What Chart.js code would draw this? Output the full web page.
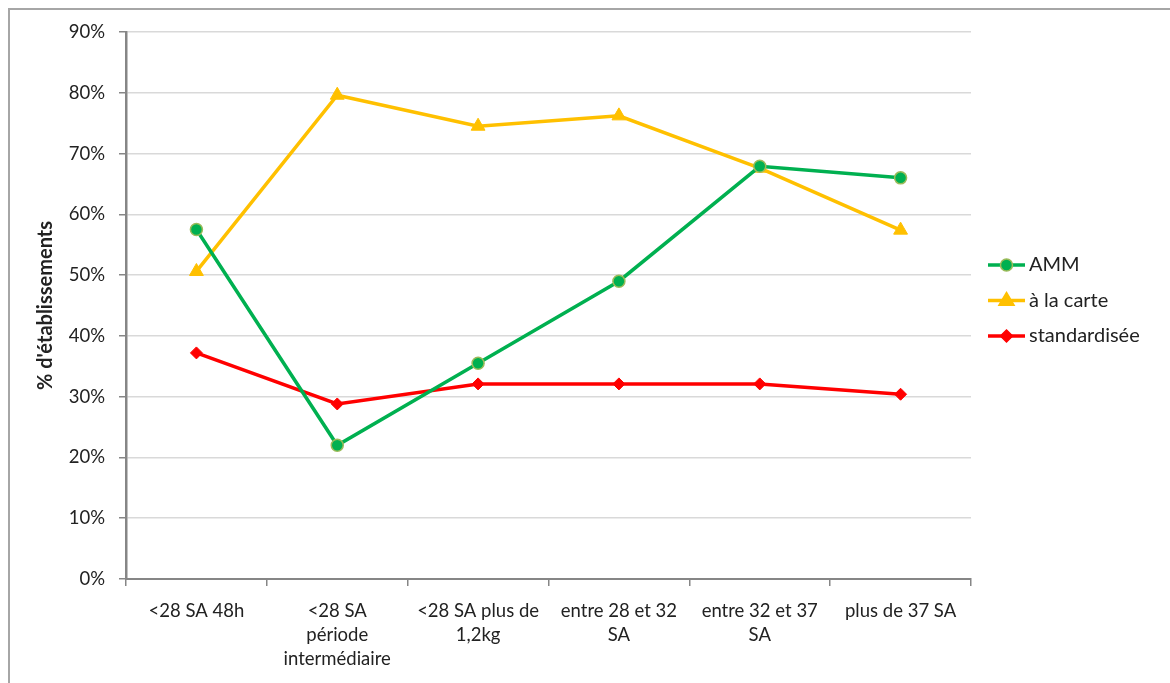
<!DOCTYPE html>
<html>
<head>
<meta charset="utf-8">
<script src="https://cdn.jsdelivr.net/npm/chart.js@4/dist/chart.umd.min.js"></script>
<style>
  html, body { margin: 0; padding: 0; background: #fff; overflow: hidden; }
  #frame {
    position: absolute; left: 8px; top: 8px; width: 1300px; height: 800px;
    border-left: 2px solid #a6a6a6; border-top: 2px solid #a6a6a6;
  }
  #wrap { position: absolute; left: 0; top: 0; width: 1170px; height: 683px; }
</style>
</head>
<body>
<div id="frame"></div>
<div id="wrap"><canvas id="lineChart"></canvas></div>
<script>
const categories = [
  '<28 SA 48h',
  ['<28 SA', 'période', 'intermédiaire'],
  ['<28 SA plus de', '1,2kg'],
  ['entre 28 et 32', 'SA'],
  ['entre 32 et 37', 'SA'],
  'plus de 37 SA'
];
const ammValues = [57.5, 22.0, 35.5, 49.0, 67.9, 66.0];
const carteValues = [50.6, 79.6, 74.5, 76.2, 67.6, 57.4];
const standardValues = [37.2, 28.8, 32.1, 32.1, 32.1, 30.4];
const seriesNames = ['AMM', 'à la carte', 'standardisée'];

const textColor = '#222';
const axisColor = '#868686';
const fontFamily = 'Lato, "Open Sans", sans-serif';

// draw a marker shape for the legend
function drawMarker(ctx, style, x, y, r, fill, stroke) {
  ctx.save();
  ctx.fillStyle = fill;
  ctx.strokeStyle = stroke;
  ctx.lineWidth = 1.5;
  ctx.beginPath();
  if (style === 'circle') {
    ctx.arc(x, y, r, 0, Math.PI * 2);
  } else if (style === 'triangle') {
    ctx.moveTo(x, y - r);
    ctx.lineTo(x + r * 0.95, y + r * 0.6);
    ctx.lineTo(x - r * 0.95, y + r * 0.6);
    ctx.closePath();
  } else {
    ctx.moveTo(x, y - r);
    ctx.lineTo(x + r, y);
    ctx.lineTo(x, y + r);
    ctx.lineTo(x - r, y);
    ctx.closePath();
  }
  ctx.fill();
  ctx.stroke();
  ctx.restore();
}

const sideLegend = {
  id: 'sideLegend',
  afterDraw(chart) {
    const ctx = chart.ctx;
    const area = chart.chartArea;
    const x0 = area.right + 17;
    const startY = 265;
    chart.data.datasets.forEach((ds, i) => {
      const y = startY + i * 35.5;
      ctx.save();
      ctx.strokeStyle = ds.borderColor;
      ctx.lineWidth = 3.5;
      ctx.beginPath();
      ctx.moveTo(x0, y);
      ctx.lineTo(x0 + 37, y);
      ctx.stroke();
      ctx.restore();
      drawMarker(ctx, ds.pointStyle, x0 + 18.5, y, ds.pointRadius,
        ds.pointBackgroundColor, ds.pointBorderColor);
      ctx.save();
      ctx.fillStyle = textColor;
      ctx.font = '20px ' + fontFamily;
      ctx.textBaseline = 'middle';
      ctx.fillText(ds.label, x0 + 41, y);
      ctx.restore();
    });
  }
};

const ctx = document.getElementById('lineChart').getContext('2d');
new Chart(ctx, {
  type: 'line',
  data: {
    labels: categories,
    datasets: [
      {
        label: seriesNames[0],
        data: ammValues,
        borderColor: '#00b050',
        borderWidth: 3.5,
        pointStyle: 'circle',
        pointRadius: 6,
        pointBackgroundColor: '#00b050',
        pointBorderColor: '#9bbb59',
        pointBorderWidth: 1.5
      },
      {
        label: seriesNames[1],
        data: carteValues,
        borderColor: '#ffc000',
        borderWidth: 3.5,
        pointStyle: 'triangle',
        pointRadius: 8,
        pointBackgroundColor: '#ffc000',
        pointBorderColor: '#ffc000',
        pointBorderWidth: 1
      },
      {
        label: seriesNames[2],
        data: standardValues,
        borderColor: '#ff0000',
        borderWidth: 3.5,
        pointStyle: 'rectRot',
        pointRadius: 6,
        pointBackgroundColor: '#ff0000',
        pointBorderColor: '#ff0000',
        pointBorderWidth: 1
      }
    ]
  },
  options: {
    responsive: true,
    maintainAspectRatio: false,
    animation: false,
    layout: { padding: { left: 0, right: 199, top: 32, bottom: 0 } },
    plugins: {
      legend: { display: false },
      tooltip: { enabled: false }
    },
    scales: {
      x: {
        offset: true,
        afterFit: (scale) => { scale.height = 104; },
        grid: {
          offset: true,
          drawOnChartArea: false,
          drawTicks: true,
          tickLength: 7,
          tickColor: axisColor,
          lineWidth: 1.5
        },
        border: { color: axisColor, width: 2 },
        ticks: {
          color: textColor,
          padding: 13,
          maxRotation: 0,
          autoSkip: false,
          font: { family: fontFamily, size: 18.5, lineHeight: 1.3 }
        }
      },
      y: {
        min: 0,
        max: 90,
        afterFit: (scale) => { scale.width = 126; },
        grid: {
          color: '#d9d9d9',
          lineWidth: 1.5,
          drawTicks: true,
          tickLength: 7,
          tickColor: axisColor
        },
        border: { color: axisColor, width: 2.5 },
        ticks: {
          stepSize: 10,
          color: textColor,
          padding: 14,
          font: { family: fontFamily, size: 18.5 },
          callback: (v) => v + '%'
        },
        title: {
          display: true,
          text: "% d'établissements",
          color: textColor,
          padding: { top: 34, bottom: 0 },
          font: { family: fontFamily, size: 20, weight: 'bold' }
        }
      }
    }
  },
  plugins: [sideLegend]
});
</script>
</body>
</html>
